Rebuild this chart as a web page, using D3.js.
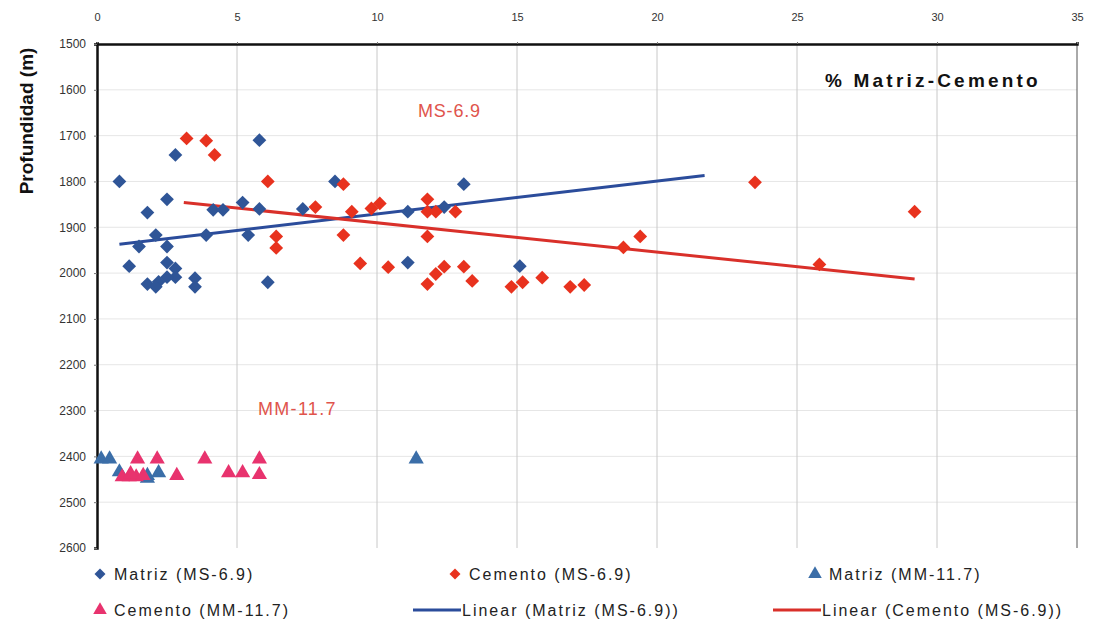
<!DOCTYPE html>
<html><head><meta charset="utf-8">
<script src="https://cdn.jsdelivr.net/npm/d3@7/dist/d3.min.js"></script>
<style>
body{margin:0;background:#fff;}
svg{display:block;font-family:"Liberation Sans",Arial,sans-serif;}
</style></head>
<body><svg id="c" width="1098" height="624"></svg>
<script>
// ---- data ----
const xTicks = [0,5,10,15,20,25,30,35];
const yTicks = [1500,1600,1700,1800,1900,2000,2100,2200,2300,2400,2500,2600];
const matrizMS = [[0.8,1800],[2.8,1742],[5.8,1710],[8.5,1800],[13.1,1806],[1.8,1868],[2.5,1839],[2.1,1917],[1.5,1942],[2.5,1942],[1.15,1985],[2.5,1977],[2.8,1990],[2.8,2009],[2.5,2009],[2.2,2019],[1.8,2024],[2.1,2030],[3.5,2011],[3.5,2030],[3.9,1917],[4.15,1862],[4.5,1862],[5.2,1846],[5.4,1917],[5.8,1860],[6.1,2020],[7.35,1860],[11.1,1866],[11.1,1977],[12.4,1856],[15.1,1985]];
const cementoMS = [[3.2,1706],[3.9,1711],[4.2,1742],[6.1,1800],[6.4,1920],[6.4,1945],[7.8,1856],[8.8,1806],[8.8,1917],[9.1,1866],[9.8,1859],[10.1,1848],[9.4,1979],[10.4,1987],[11.8,1839],[11.8,1866],[12.1,1866],[12.8,1866],[11.8,1920],[11.8,2024],[12.1,2002],[12.4,1986],[13.1,1986],[13.4,2017],[14.8,2030],[15.2,2020],[15.9,2010],[16.9,2030],[17.4,2026],[18.8,1944],[19.4,1920],[23.5,1802],[25.8,1981],[29.2,1866]];
const matrizMM = [[0.15,2406],[0.45,2406],[0.8,2434],[1.8,2442],[2.2,2436],[1.8,2448],[11.4,2406]];
const cementoMM = [[1.45,2406],[2.15,2406],[3.85,2406],[5.8,2406],[5.8,2440],[5.2,2436],[4.7,2436],[2.85,2442],[0.9,2445],[1.15,2445],[1.4,2445],[1.65,2442],[1.2,2438]];
const trendMatriz = [[0.8,1937],[21.7,1787]];
const trendCemento = [[3.1,1846],[29.2,2013]];
const legendItems = [
  {label:"Matriz (MS-6.9)", type:"diamond", color:"#2f5597"},
  {label:"Cemento (MS-6.9)", type:"diamond", color:"#e8321e"},
  {label:"Matriz (MM-11.7)", type:"triangle", color:"#3b6ea8"},
  {label:"Cemento (MM-11.7)", type:"triangle", color:"#e8336e"},
  {label:"Linear (Matriz (MS-6.9))", type:"line", color:"#2b4c9b"},
  {label:"Linear (Cemento (MS-6.9))", type:"line", color:"#d9302a"}
];

// ---- chart ----
const svg = d3.select("#c");
const x = d3.scaleLinear().domain([0,35]).range([97,1077]);
const y = d3.scaleLinear().domain([1500,2600]).range([44,548]);

// grid
svg.append("g").selectAll("line").data(yTicks.slice(1,-1)).join("line")
  .attr("x1",97).attr("x2",1077).attr("y1",d=>y(d)).attr("y2",d=>y(d))
  .attr("stroke","#e6e6e6").attr("stroke-width",1);
svg.append("g").selectAll("line").data(xTicks.slice(1,-1)).join("line")
  .attr("y1",44).attr("y2",548).attr("x1",d=>x(d)).attr("x2",d=>x(d))
  .attr("stroke","#c8c8c8").attr("stroke-width",1);
// right border
svg.append("line").attr("x1",x(35)).attr("x2",x(35)).attr("y1",44).attr("y2",548).attr("stroke","#555").attr("stroke-width",1);

// axes
const topAxis = svg.append("g").attr("transform","translate(0,44)")
  .call(d3.axisTop(x).tickValues(xTicks).tickSize(2).tickPadding(21));
topAxis.select(".domain").attr("stroke","#111").attr("stroke-width",2.5);
topAxis.selectAll("text").attr("font-size",11).attr("fill","#333");
topAxis.selectAll(".tick line").attr("stroke","#777");

const leftAxis = svg.append("g").attr("transform","translate(97,0)")
  .call(d3.axisLeft(y).tickValues(yTicks).tickFormat(d3.format("d")).tickSize(3).tickPadding(8));
leftAxis.select(".domain").attr("stroke","#111").attr("stroke-width",2.5);
leftAxis.selectAll("text").attr("font-size",12).attr("fill","#333");
leftAxis.selectAll(".tick line").attr("stroke","#777");

// axis title
svg.append("text").attr("transform","translate(33,121) rotate(-90)")
  .attr("text-anchor","middle").attr("font-size",19).attr("font-weight","bold")
  .attr("fill","#111").text("Profundidad (m)");

// trend lines
const line = d3.line().x(d=>x(d[0])).y(d=>y(d[1]));
svg.append("path").datum(trendMatriz).attr("d",line).attr("stroke","#2b4c9b").attr("stroke-width",3).attr("fill","none");
svg.append("path").datum(trendCemento).attr("d",line).attr("stroke","#d9302a").attr("stroke-width",3).attr("fill","none");

const diamond = d3.symbol().type(d3.symbolSquare).size(95)();
const tri = d3.symbol().type(d3.symbolTriangle).size(100)();

function pts(data,shape,color,rot){
  svg.append("g").selectAll("path").data(data).join("path")
    .attr("d",shape)
    .attr("transform",d=>`translate(${x(d[0])},${y(d[1])}) rotate(${rot})`)
    .attr("fill",color);
}
pts(matrizMS,diamond,"#2f5597",45);
pts(cementoMS,diamond,"#e8321e",45);
pts(matrizMM,tri,"#3b6ea8",0);
pts(cementoMM,tri,"#e8336e",0);

// annotations
svg.append("text").attr("x",825).attr("y",87).attr("font-size",19).attr("font-weight","bold")
  .attr("letter-spacing",3.2).attr("fill","#111").text("% Matriz-Cemento");
svg.append("text").attr("x",418).attr("y",117).attr("font-size",18).attr("letter-spacing",0.8).attr("fill","#e0544c").text("MS-6.9");
svg.append("text").attr("x",258).attr("y",415).attr("font-size",18).attr("letter-spacing",1.3).attr("fill","#e0544c").text("MM-11.7");

// legend
const lx = [100,455,815], ly = [574,610];
legendItems.forEach((it,i)=>{
  const col = i%3, row = Math.floor(i/3);
  const g = svg.append("g").attr("transform",`translate(${lx[col]},${ly[row]})`);
  let tx = 14;
  if(it.type==="diamond") g.append("path").attr("d",d3.symbol().type(d3.symbolSquare).size(60)()).attr("transform","rotate(45)").attr("fill",it.color);
  else if(it.type==="triangle") g.append("path").attr("d",d3.symbol().type(d3.symbolTriangle).size(80)()).attr("fill",it.color);
  else { g.append("line").attr("x1",-42).attr("x2",6).attr("y1",0).attr("y2",0).attr("stroke",it.color).attr("stroke-width",3); tx=7; }
  g.append("text").attr("x",tx).attr("y",6).attr("font-size",16).attr("letter-spacing",2).attr("fill","#222").text(it.label);
});
</script></body></html>
